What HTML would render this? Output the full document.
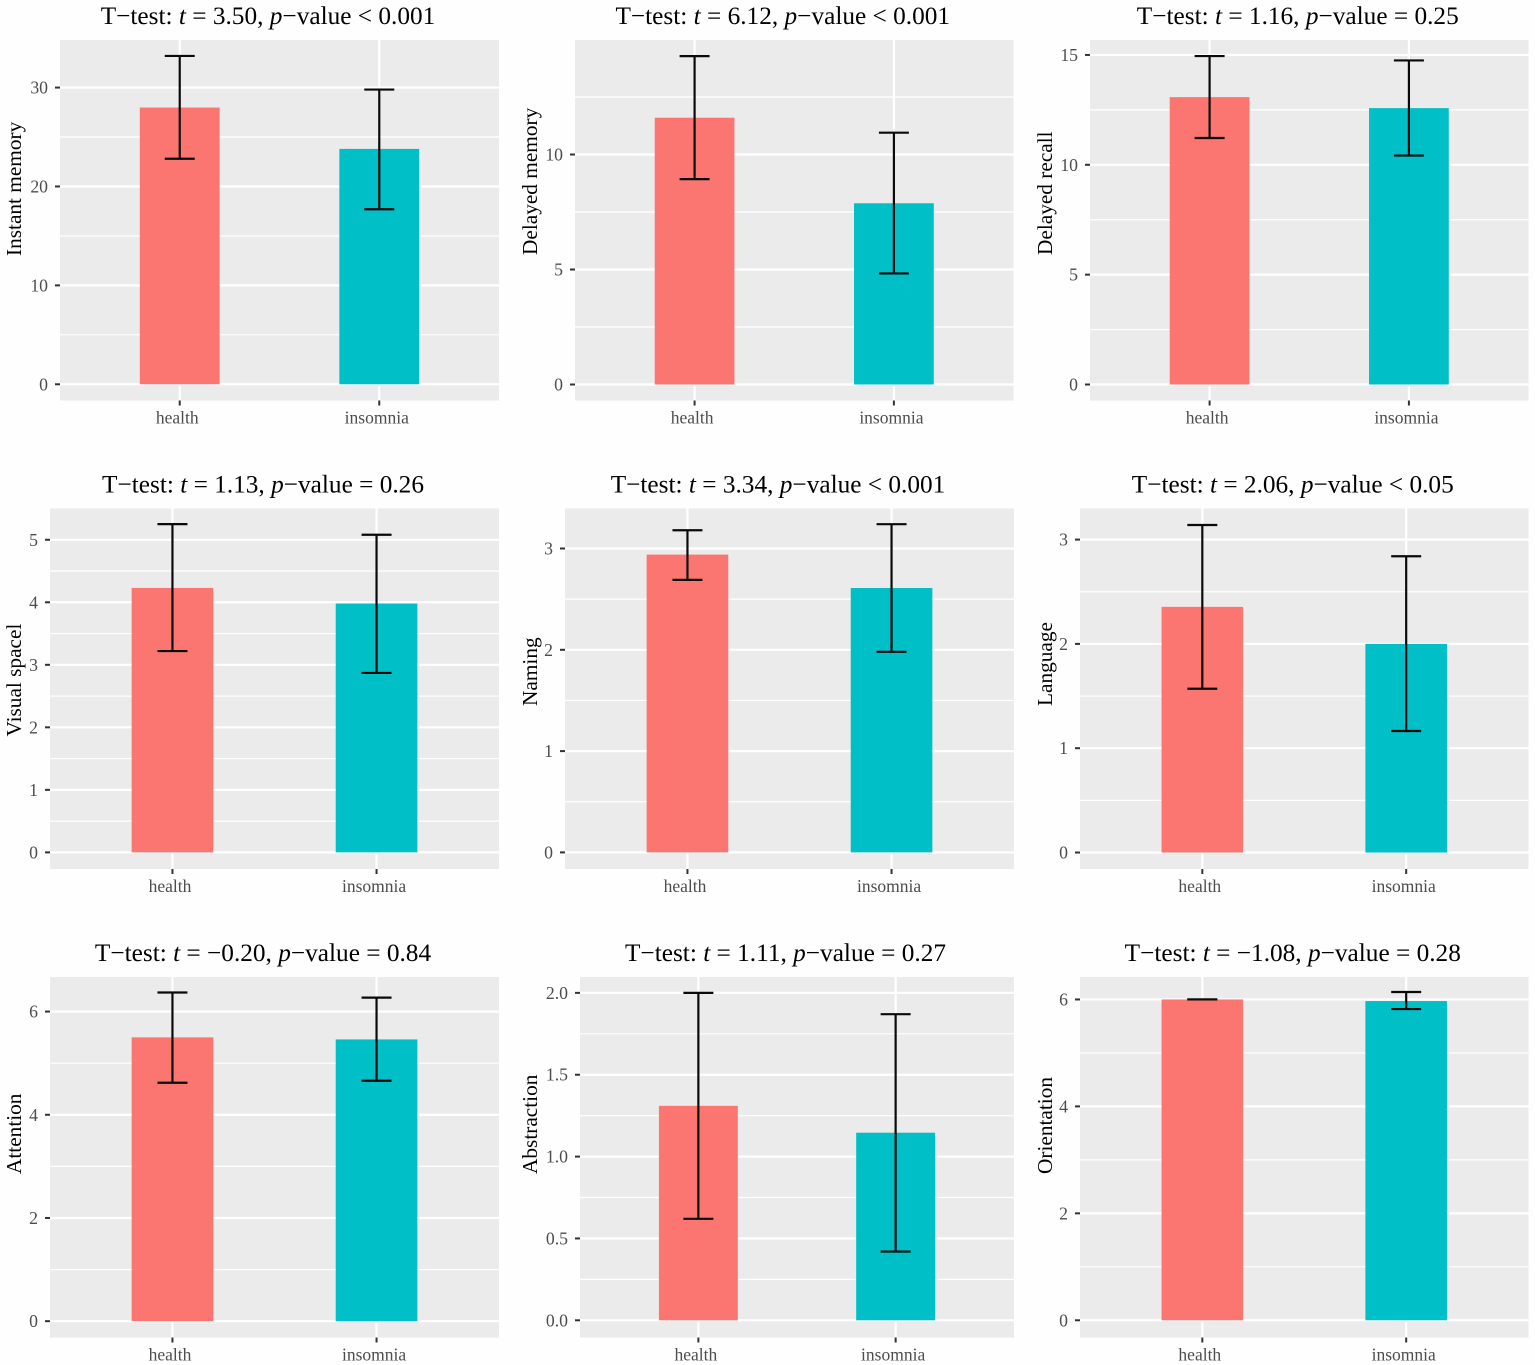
<!DOCTYPE html>
<html lang="en">
<head>
<meta charset="utf-8">
<title>T-test bar charts</title>
<style>
html,body{margin:0;padding:0;background:#fff;}
svg{display:block;}
text{font-family:"Liberation Serif","Times New Roman",serif;}
</style>
</head>
<body>
<svg id="figure" xmlns="http://www.w3.org/2000/svg" width="1535" height="1365" viewBox="0 0 1535 1365">
<rect x="0" y="0" width="1535" height="1365" fill="#fefefe"></rect>
</svg>
<script>
// ---- data ----
const categories = ["health", "insomnia"];
const yTitles = ["Instant memory", "Delayed memory", "Delayed recall", "Visual spacel", "Naming", "Language", "Attention", "Abstraction", "Orientation"];
const tStats = ["3.50", "6.12", "1.16", "1.13", "3.34", "2.06", "\u22120.20", "1.11", "\u22121.08"];
const pTexts = ["< 0.001", "< 0.001", "= 0.25", "= 0.26", "< 0.001", "< 0.05", "= 0.84", "= 0.27", "= 0.28"];
const healthMeans = [27.98, 11.6, 13.08, 4.23, 2.94, 2.355, 5.5, 1.31, 6.0];
const healthUpper = [33.2, 14.28, 14.95, 5.25, 3.18, 3.14, 6.37, 2.0, 6.0];
const healthLower = [22.8, 8.93, 11.22, 3.22, 2.69, 1.57, 4.62, 0.62, 6.0];
const insomniaMeans = [23.8, 7.88, 12.58, 3.98, 2.61, 2.0, 5.46, 1.146, 5.97];
const insomniaUpper = [29.8, 10.95, 14.75, 5.08, 3.24, 2.84, 6.27, 1.87, 6.14];
const insomniaLower = [17.7, 4.83, 10.42, 2.87, 1.98, 1.165, 4.66, 0.42, 5.82];
const yTickLabels = [
  ["0", "10", "20", "30"],
  ["0", "5", "10"],
  ["0", "5", "10", "15"],
  ["0", "1", "2", "3", "4", "5"],
  ["0", "1", "2", "3"],
  ["0", "1", "2", "3"],
  ["0", "2", "4", "6"],
  ["0.0", "0.5", "1.0", "1.5", "2.0"],
  ["0", "2", "4", "6"]
];
const yDomainMin = [-1.64, -0.696, -0.728, -0.266, -0.164, -0.158, -0.3165, -0.105, -0.322];
const yDomainMax = [34.81, 14.98, 15.68, 5.5, 3.395, 3.298, 6.67, 2.097, 6.42];

// ---- layout ----
const plotLefts = [60, 575, 1090, 50, 565, 1080, 50, 580, 1080];
const plotRights = [499, 1013.5, 1528.5, 499, 1014, 1528.5, 499, 1014, 1528.5];
const plotTops = [40, 40, 40, 508.5, 508.5, 508.5, 977, 977, 977];
const plotHeight = 360.5;
const yTitleX = [21, 537, 1052, 21, 537, 1052, 21, 537, 1052];
const yTitleBottom = [256, 255, 255, 736.5, 706, 706, 1174, 1174, 1174];
const capWidth = 30;
const barColors = ["#fb7670", "#00bfc6"];

const svg = document.getElementById("figure");
const NS = "http://www.w3.org/2000/svg";

function make(tag, geom, parent) {
  const node = document.createElementNS(NS, tag);
  for (const k in geom) node.setAttribute(k, geom[k]);
  parent.appendChild(node);
  return node;
}
function makeLine(x1, y1, x2, y2, stroke, width, parent) {
  return make("line", {x1: x1, y1: y1, x2: x2, y2: y2, stroke: stroke, "stroke-width": width}, parent);
}

function drawPanel(i) {
  const left = plotLefts[i], right = plotRights[i], top = plotTops[i], bottom = top + plotHeight;
  const width = right - left;
  const yMin = yDomainMin[i], yMax = yDomainMax[i];
  const yScale = v => bottom - (v - yMin) / (yMax - yMin) * plotHeight;
  const xScale = c => left + (c + 0.6) / 2.2 * width;
  const band = width / 2.2;

  const g = make("g", {}, svg);
  
  

  const bg = make("rect", {x: left, y: top, width: width, height: plotHeight, fill: "#ebebeb"}, g);
  
  

  // minor gridlines
  const ticks = yTickLabels[i].map(Number);
  const step = ticks[1] - ticks[0];
  ticks.forEach(t => {
    const m = t + step / 2;
    if (m < yMax) {
      const minor = makeLine(left, yScale(m), right, yScale(m), "#fff", 1.2, g);
      
      
    }
  });

  // major gridlines, ticks and labels on y
  ticks.forEach((t, k) => {
    const y = yScale(t);
    const grid = makeLine(left, y, right, y, "#fff", 2.2, g);
    
    
    const tick = makeLine(left - 5, y, left, y, "#333", 2, g);
    
    
    const lab = make("text", {x: left - 12, y: y + 6, "text-anchor": "end", "font-size": 17.7, fill: "#4d4d4d"}, g);
    lab.textContent = yTickLabels[i][k];
    
    
  });

  // vertical gridlines, x ticks, labels
  categories.forEach((cat, c) => {
    const x = xScale(c);
    const vg = makeLine(x, top, x, bottom, "#fff", 2.2, g);
    
    
    const xt = makeLine(x, bottom, x, bottom + 5, "#333", 2, g);
    
    
    const xl = make("text", {x: x - 2.5, y: bottom + 23, "text-anchor": "middle", "font-size": 17.5, fill: "#4d4d4d"}, g);
    xl.textContent = cat;
    
    
  });

  // bars
  const means = [healthMeans[i], insomniaMeans[i]];
  const uppers = [healthUpper[i], insomniaUpper[i]];
  const lowers = [healthLower[i], insomniaLower[i]];
  categories.forEach((cat, c) => {
    const x = xScale(c);
    const y0 = yScale(0), y1 = yScale(means[c]);
    const bar = make("rect", {x: x - band * 0.2, y: y1, width: band * 0.4, height: y0 - y1, fill: barColors[c]}, g);
    
    
  });

  // error bars
  categories.forEach((cat, c) => {
    const x = xScale(c);
    const yHi = yScale(uppers[c]), yLo = yScale(lowers[c]);
    const eg = make("g", {}, g);
    
    
    makeLine(x, yHi, x, yLo, "#0a0a0a", 2.2, eg);
    makeLine(x - capWidth / 2, yHi, x + capWidth / 2, yHi, "#0a0a0a", 2.2, eg);
    makeLine(x - capWidth / 2, yLo, x + capWidth / 2, yLo, "#0a0a0a", 2.2, eg);
  });

  // title
  const title = make("text", {x: (left + right) / 2 - 11.5, y: top - 16, "text-anchor": "middle", "font-size": 25.3, fill: "#000"}, g);
  
  
  title.appendChild(document.createTextNode("T\u2212test: "));
  const tI = make("tspan", {"font-style": "italic"}, title);
  tI.textContent = "t";
  title.appendChild(document.createTextNode(" = " + tStats[i] + ", "));
  const pI = make("tspan", {"font-style": "italic"}, title);
  pI.textContent = "p";
  title.appendChild(document.createTextNode("\u2212value " + pTexts[i]));

  // y axis title
  const yt = make("text", {x: yTitleX[i], y: yTitleBottom[i], transform: "rotate(-90 " + yTitleX[i] + " " + yTitleBottom[i] + ")", "text-anchor": "start", "font-size": 21.3, fill: "#000"}, g);
  yt.textContent = yTitles[i];
  
  
}

yTitles.forEach((_, i) => drawPanel(i));
</script>
</body>
</html>
